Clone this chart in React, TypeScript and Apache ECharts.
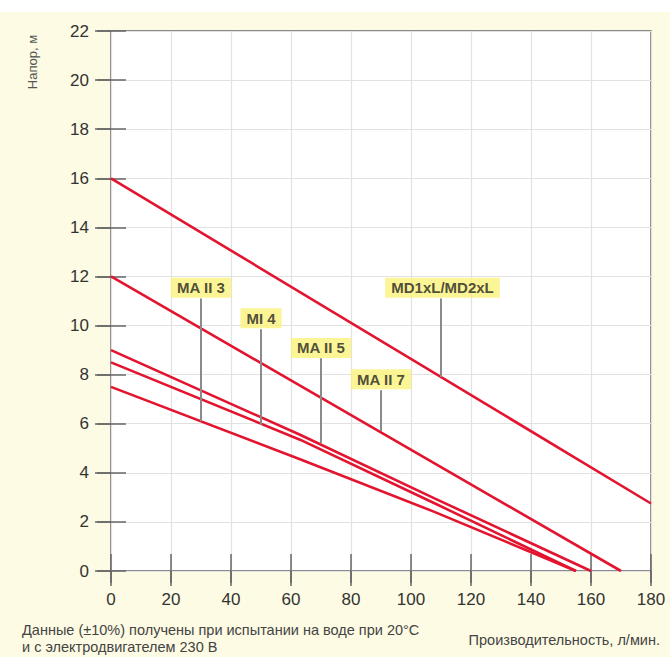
import React, { useEffect, useRef } from "react";
import * as echarts from "echarts";

// Pump curves (flow l/min, head m)
const curveNames = ["MD1xL/MD2xL", "MA II 7", "MA II 5", "MI 4", "MA II 3"];
const curveMD: number[][] = [[0, 16], [180, 2.75]];
const curveMA7: number[][] = [[0, 12], [170, 0]];
const curveMA5: number[][] = [[0, 9], [63, 5.55], [108, 2.95], [160, 0]];
const curveMI4: number[][] = [[0, 8.5], [63, 5.35], [108, 2.75], [155, 0]];
const curveMA3: number[][] = [[0, 7.5], [63, 4.55], [108, 2.4], [155, 0]];
const curves = [curveMD, curveMA7, curveMA5, curveMI4, curveMA3];

// Label pointers
const pointerX = [110, 90, 70, 50, 30];
const pointerTop = [11.1, 7.36, 8.67, 9.85, 11.1];
const pointerBottom = [7.9, 5.7, 5.2, 5.95, 6.1];
const labelX = [110.5, 90, 70, 50, 30];
const labelY = [11.54, 7.81, 9.09, 10.3, 11.54];

const xMin = 0, xMax = 180, xStep = 20;
const yMin = 0, yMax = 22, yStep = 2;

const yName = "Напор, м";
const xName = "Производительность, л/мин.";
const note = "Данные (±10%) получены при испытании на воде при 20°C\nи с электродвигателем 230 В";

const FONT = "'Liberation Sans', Arial, sans-serif";
const RED = "#e3142f";
const TICK = { color: "#666", width: 1.5 };

export default function App() {
  const ref = useRef<HTMLDivElement>(null);
  useEffect(() => {
    if (!ref.current) return;
    const chart = echarts.init(ref.current, undefined, { renderer: "svg" });
    const xBase = { type: "value", min: xMin, max: xMax, interval: xStep, gridIndex: 0,
      axisLine: { show: false }, splitLine: { show: false }, axisLabel: { show: false } };
    const yBase = { type: "value", min: yMin, max: yMax, interval: yStep, gridIndex: 0,
      axisLine: { show: false }, splitLine: { show: false }, axisLabel: { show: false } };
    const series: any[] = [];
    curves.forEach((c, i) => {
      series.push({ type: "line", name: curveNames[i], data: c, symbol: "none",
        lineStyle: { color: RED, width: 2.6 }, z: 3, silent: true });
    });
    pointerX.forEach((x, i) => {
      series.push({ type: "line", data: [[x, pointerTop[i]], [x, pointerBottom[i]]], symbol: "none",
        lineStyle: { color: "#8a8a8a", width: 2 }, z: 4, silent: true });
    });
    series.push({
      type: "scatter", symbolSize: 1, z: 6, silent: true,
      itemStyle: { color: "transparent" },
      data: curveNames.map((n, i) => ({ name: n, value: [labelX[i], labelY[i]] })),
      label: { show: true, position: "inside", formatter: (p: any) => p.name,
        fontFamily: FONT, fontWeight: "bold", fontSize: 15, color: "#222",
        backgroundColor: "#fbf27a", padding: [3, 6, 2, 6] },
    });
    chart.setOption({
      animation: false,
      grid: { left: 111, top: 31, width: 540, height: 540, show: true,
        backgroundColor: "#ffffff", borderColor: "#666", borderWidth: 1.5 },
      xAxis: [
        { ...xBase, position: "bottom",
          axisLabel: { show: true, margin: 20, fontSize: 17, color: "#333", fontFamily: FONT },
          axisTick: { show: true, inside: false, length: 12, lineStyle: TICK },
          splitLine: { show: true, lineStyle: { color: "#e2e2e2", width: 1.2 } } },
        { ...xBase, position: "bottom", axisTick: { show: true, inside: true, length: 17, lineStyle: TICK } },
        { ...xBase, position: "top", axisTick: { show: true, inside: true, length: 15, lineStyle: TICK } },
      ],
      yAxis: [
        { ...yBase, position: "left",
          axisLabel: { show: true, margin: 22, fontSize: 17, color: "#333", fontFamily: FONT },
          axisTick: { show: true, inside: false, length: 14, lineStyle: TICK },
          splitLine: { show: true, lineStyle: { color: "#e2e2e2", width: 1.2 } } },
        { ...yBase, position: "left", axisTick: { show: true, inside: true, length: 15, lineStyle: TICK } },
        { ...yBase, position: "right", axisTick: { show: true, inside: true, length: 16, lineStyle: TICK } },
      ],
      series,
      graphic: [
        { type: "text", x: 32, y: 62, rotation: Math.PI / 2,
          style: { text: yName, fontSize: 13, fontFamily: FONT, fill: "#555", align: "center", verticalAlign: "middle" } },
        { type: "text", x: 22, y: 621,
          style: { text: note, fontSize: 14.5, lineHeight: 17, fontFamily: FONT, fill: "#444", align: "left", verticalAlign: "top" } },
        { type: "text", x: 660, y: 640,
          style: { text: xName, fontSize: 14.5, fontFamily: FONT, fill: "#444", align: "right", verticalAlign: "middle" } },
      ],
    });
    return () => chart.dispose();
  }, []);
  return (
    <div
      ref={ref}
      style={{ position: "fixed", left: 0, top: 0, width: 670, height: 657,
        background: "linear-gradient(#ffffff 0px, #ffffff 12px, #fdfbe3 12px)" }}
    />
  );
}
